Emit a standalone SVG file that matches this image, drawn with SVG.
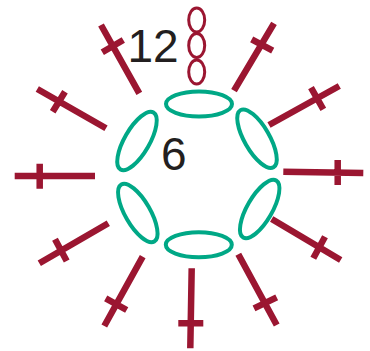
<svg xmlns="http://www.w3.org/2000/svg" width="370" height="351" viewBox="0 0 370 351">
<style>
.st{fill:none;stroke:#9b1631;stroke-width:6.5}
.ch{fill:none;stroke:#9b1631;stroke-width:3}
.ov{fill:none;stroke:#00a886;stroke-width:4}
text{font-family:"Liberation Sans",Arial,sans-serif;font-size:46px;fill:#231f20}
</style>
<g id="connectors">
<path class="st" d="M139.3 93.3L101 25M102.3 52.3L123.3 40"/>
<path class="st" d="M234 90.7L274 23.3M251.7 39.3L272.7 50.7"/>
<path class="st" d="M106 128.3L37.3 89M65 91.7L52.7 111.7"/>
<path class="st" d="M269 125L339.3 86M311 87.7L323.3 109.3"/>
<path class="st" d="M95 176H14.7M39.7 163.7V188.7"/>
<path class="st" d="M283.3 171.7L363.3 173M337.7 160V185"/>
<path class="st" d="M108.3 223.3L39.3 263.3M55 239.3L66.7 261"/>
<path class="st" d="M271.7 219L340.7 260M325 236.7L313.3 258.3"/>
<path class="st" d="M142.7 256.7L104.3 326M105.7 298.3L126.7 310"/>
<path class="st" d="M238.3 254.3L276.7 325M254 308.3L276.7 297.3"/>
<path class="st" d="M191.7 268.3L190.3 348.3M178.3 323.3H203.3"/>
</g>
<g id="chain">
<ellipse class="ch" cx="196.7" cy="20" rx="8" ry="12"/>
<ellipse class="ch" cx="196.7" cy="45.5" rx="8" ry="12"/>
<ellipse class="ch" cx="196.7" cy="72" rx="8" ry="12"/>
</g>
<g id="oval-top"><ellipse class="ov" cx="199" cy="104" rx="33" ry="12.5"/></g>
<g id="oval-upper-left"><ellipse class="ov" cx="137" cy="141" rx="33" ry="12.5" transform="rotate(-60 137 141)"/></g>
<g id="oval-upper-right"><ellipse class="ov" cx="257" cy="138.7" rx="33" ry="12.5" transform="rotate(60 257 138.7)"/></g>
<g id="oval-lower-left"><ellipse class="ov" cx="137.8" cy="213" rx="33" ry="12.5" transform="rotate(60 137.8 213)"/></g>
<g id="oval-lower-right"><ellipse class="ov" cx="259.7" cy="209" rx="33" ry="12.5" transform="rotate(-60 259.7 209)"/></g>
<g id="oval-bottom"><ellipse class="ov" cx="198.8" cy="244.7" rx="33" ry="12.5"/></g>
<g id="label-12"><text x="127.5" y="61.5">12</text></g>
<g id="label-6"><text x="161" y="170">6</text></g>
</svg>
